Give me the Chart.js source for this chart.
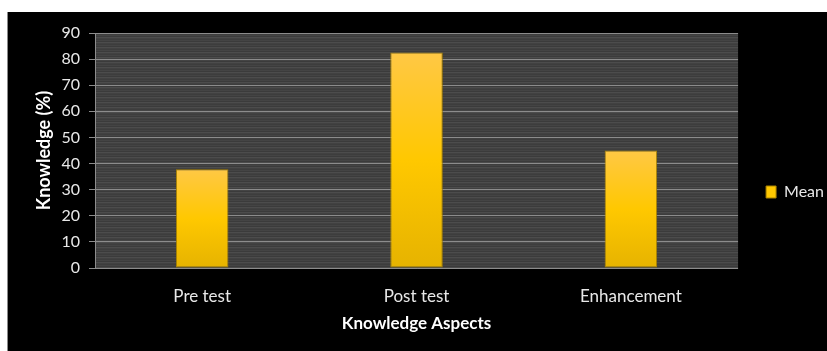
<!DOCTYPE html>
<html>
<head>
<meta charset="utf-8">
<script src="https://cdn.jsdelivr.net/npm/chart.js@4.4.1/dist/chart.umd.min.js"></script>
<style>
    html, body { margin: 0; padding: 0; background: #fff; }
    .chart-box {
        position: absolute;
        left: 7px;
        top: 12px;
        width: 820px;
        height: 339px;
        background: #000;
        border-left: 1px solid #8a8a8a;
        box-sizing: border-box;
    }
</style>
</head>
<body>
<div class="chart-box"><canvas id="knowledgeChart" width="819" height="339"></canvas></div>
<script>
// Mean knowledge score per aspect
const categories = ['Pre test', 'Post test', 'Enhancement'];
const meanValues = [37.8, 82.5, 45];
const yTicks = [0, 10, 20, 30, 40, 50, 60, 70, 80, 90];

document.addEventListener('DOMContentLoaded', function () {
    const ctx = document.getElementById('knowledgeChart');
    const fontFamily = 'Lato, "Open Sans", sans-serif';

    // Striped dark fill behind the plot area
    const stripeCanvas = document.createElement('canvas');
    stripeCanvas.width = 4;
    stripeCanvas.height = 5;
    const sctx = stripeCanvas.getContext('2d');
    const stripeRows = ['#4c4c4c', '#414141', '#3d3d3d', '#444444', '#3b3b3b'];
    stripeRows.forEach((c, i) => {
        sctx.fillStyle = c;
        sctx.fillRect(0, i, 4, 1);
    });

    const plotBackground = {
        id: 'plotBackground',
        beforeDraw(chart) {
            const { ctx, chartArea } = chart;
            if (!chartArea) return;
            ctx.save();
            ctx.fillStyle = ctx.createPattern(stripeCanvas, 'repeat');
            ctx.fillRect(chartArea.left, chartArea.top,
                chartArea.right - chartArea.left, chartArea.bottom - chartArea.top);
            ctx.restore();
        }
    };

    // nudge the legend further right, past the plot edge
    const legendOffset = {
        id: 'legendOffset',
        afterLayout(chart) {
            if (chart.legend) {
                chart.legend.left += 12;
                chart.legend.right += 12;
            }
        }
    };

    function barGradient(context) {
        const chart = context.chart;
        const y = chart.scales && chart.scales.y;
        if (!chart.chartArea || !y || context.type !== 'data') return '#ffc800';
        const top = y.getPixelForValue(context.raw);
        const bottom = y.getPixelForValue(0);
        const g = chart.ctx.createLinearGradient(0, top, 0, bottom);
        g.addColorStop(0, '#ffc845');
        g.addColorStop(0.5, '#ffc800');
        g.addColorStop(1, '#e6b300');
        return g;
    }

    new Chart(ctx, {
        type: 'bar',
        data: {
            labels: categories,
            datasets: [{
                label: 'Mean',
                data: meanValues,
                backgroundColor: barGradient,
                borderColor: '#a98200',
                borderWidth: 1,
                borderSkipped: false,
                barPercentage: 0.245,
                categoryPercentage: 1
            }]
        },
        options: {
            responsive: false,
            animation: false,
            layout: { padding: { left: 0, right: 5, top: 21, bottom: 0 } },
            plugins: {
                legend: {
                    position: 'right',
                    labels: {
                        color: '#e8e8e8',
                        boxWidth: 10,
                        boxHeight: 12,
                        padding: 16,
                        font: { family: fontFamily, size: 16 },
                        generateLabels() {
                            return [{
                                text: 'Mean',
                                fillStyle: '#ffc800',
                                strokeStyle: '#a98200',
                                lineWidth: 1,
                                fontColor: '#e8e8e8',
                                datasetIndex: 0
                            }];
                        }
                    }
                },
                tooltip: { enabled: false }
            },
            scales: {
                x: {
                    grid: { display: false, drawTicks: false },
                    border: { display: false },
                    ticks: {
                        color: '#e8e8e8',
                        padding: 18,
                        font: { family: fontFamily, size: 17 }
                    },
                    title: {
                        display: true,
                        text: 'Knowledge Aspects',
                        color: '#ffffff',
                        padding: { top: 0, bottom: 17 },
                        font: { family: fontFamily, size: 17, weight: 'bold' }
                    },
                    afterFit(scale) { scale.height = 83; }
                },
                y: {
                    min: 0,
                    max: 90,
                    afterBuildTicks(scale) {
                        scale.ticks = yTicks.map(v => ({ value: v }));
                    },
                    grid: {
                        color: '#8c8c8c',
                        lineWidth: 1,
                        tickLength: 6,
                        tickColor: '#8c8c8c'
                    },
                    border: { display: true, color: '#8c8c8c', width: 1 },
                    ticks: {
                        color: '#e8e8e8',
                        padding: 9,
                        font: { family: fontFamily, size: 16 }
                    },
                    title: {
                        display: true,
                        text: 'Knowledge (%)',
                        color: '#ffffff',
                        padding: { top: 25, bottom: 0 },
                        font: { family: fontFamily, size: 18, weight: 'bold' }
                    },
                    afterFit(scale) { scale.width = 87; }
                }
            }
        },
        plugins: [plotBackground, legendOffset]
    });
});
</script>
</body>
</html>
